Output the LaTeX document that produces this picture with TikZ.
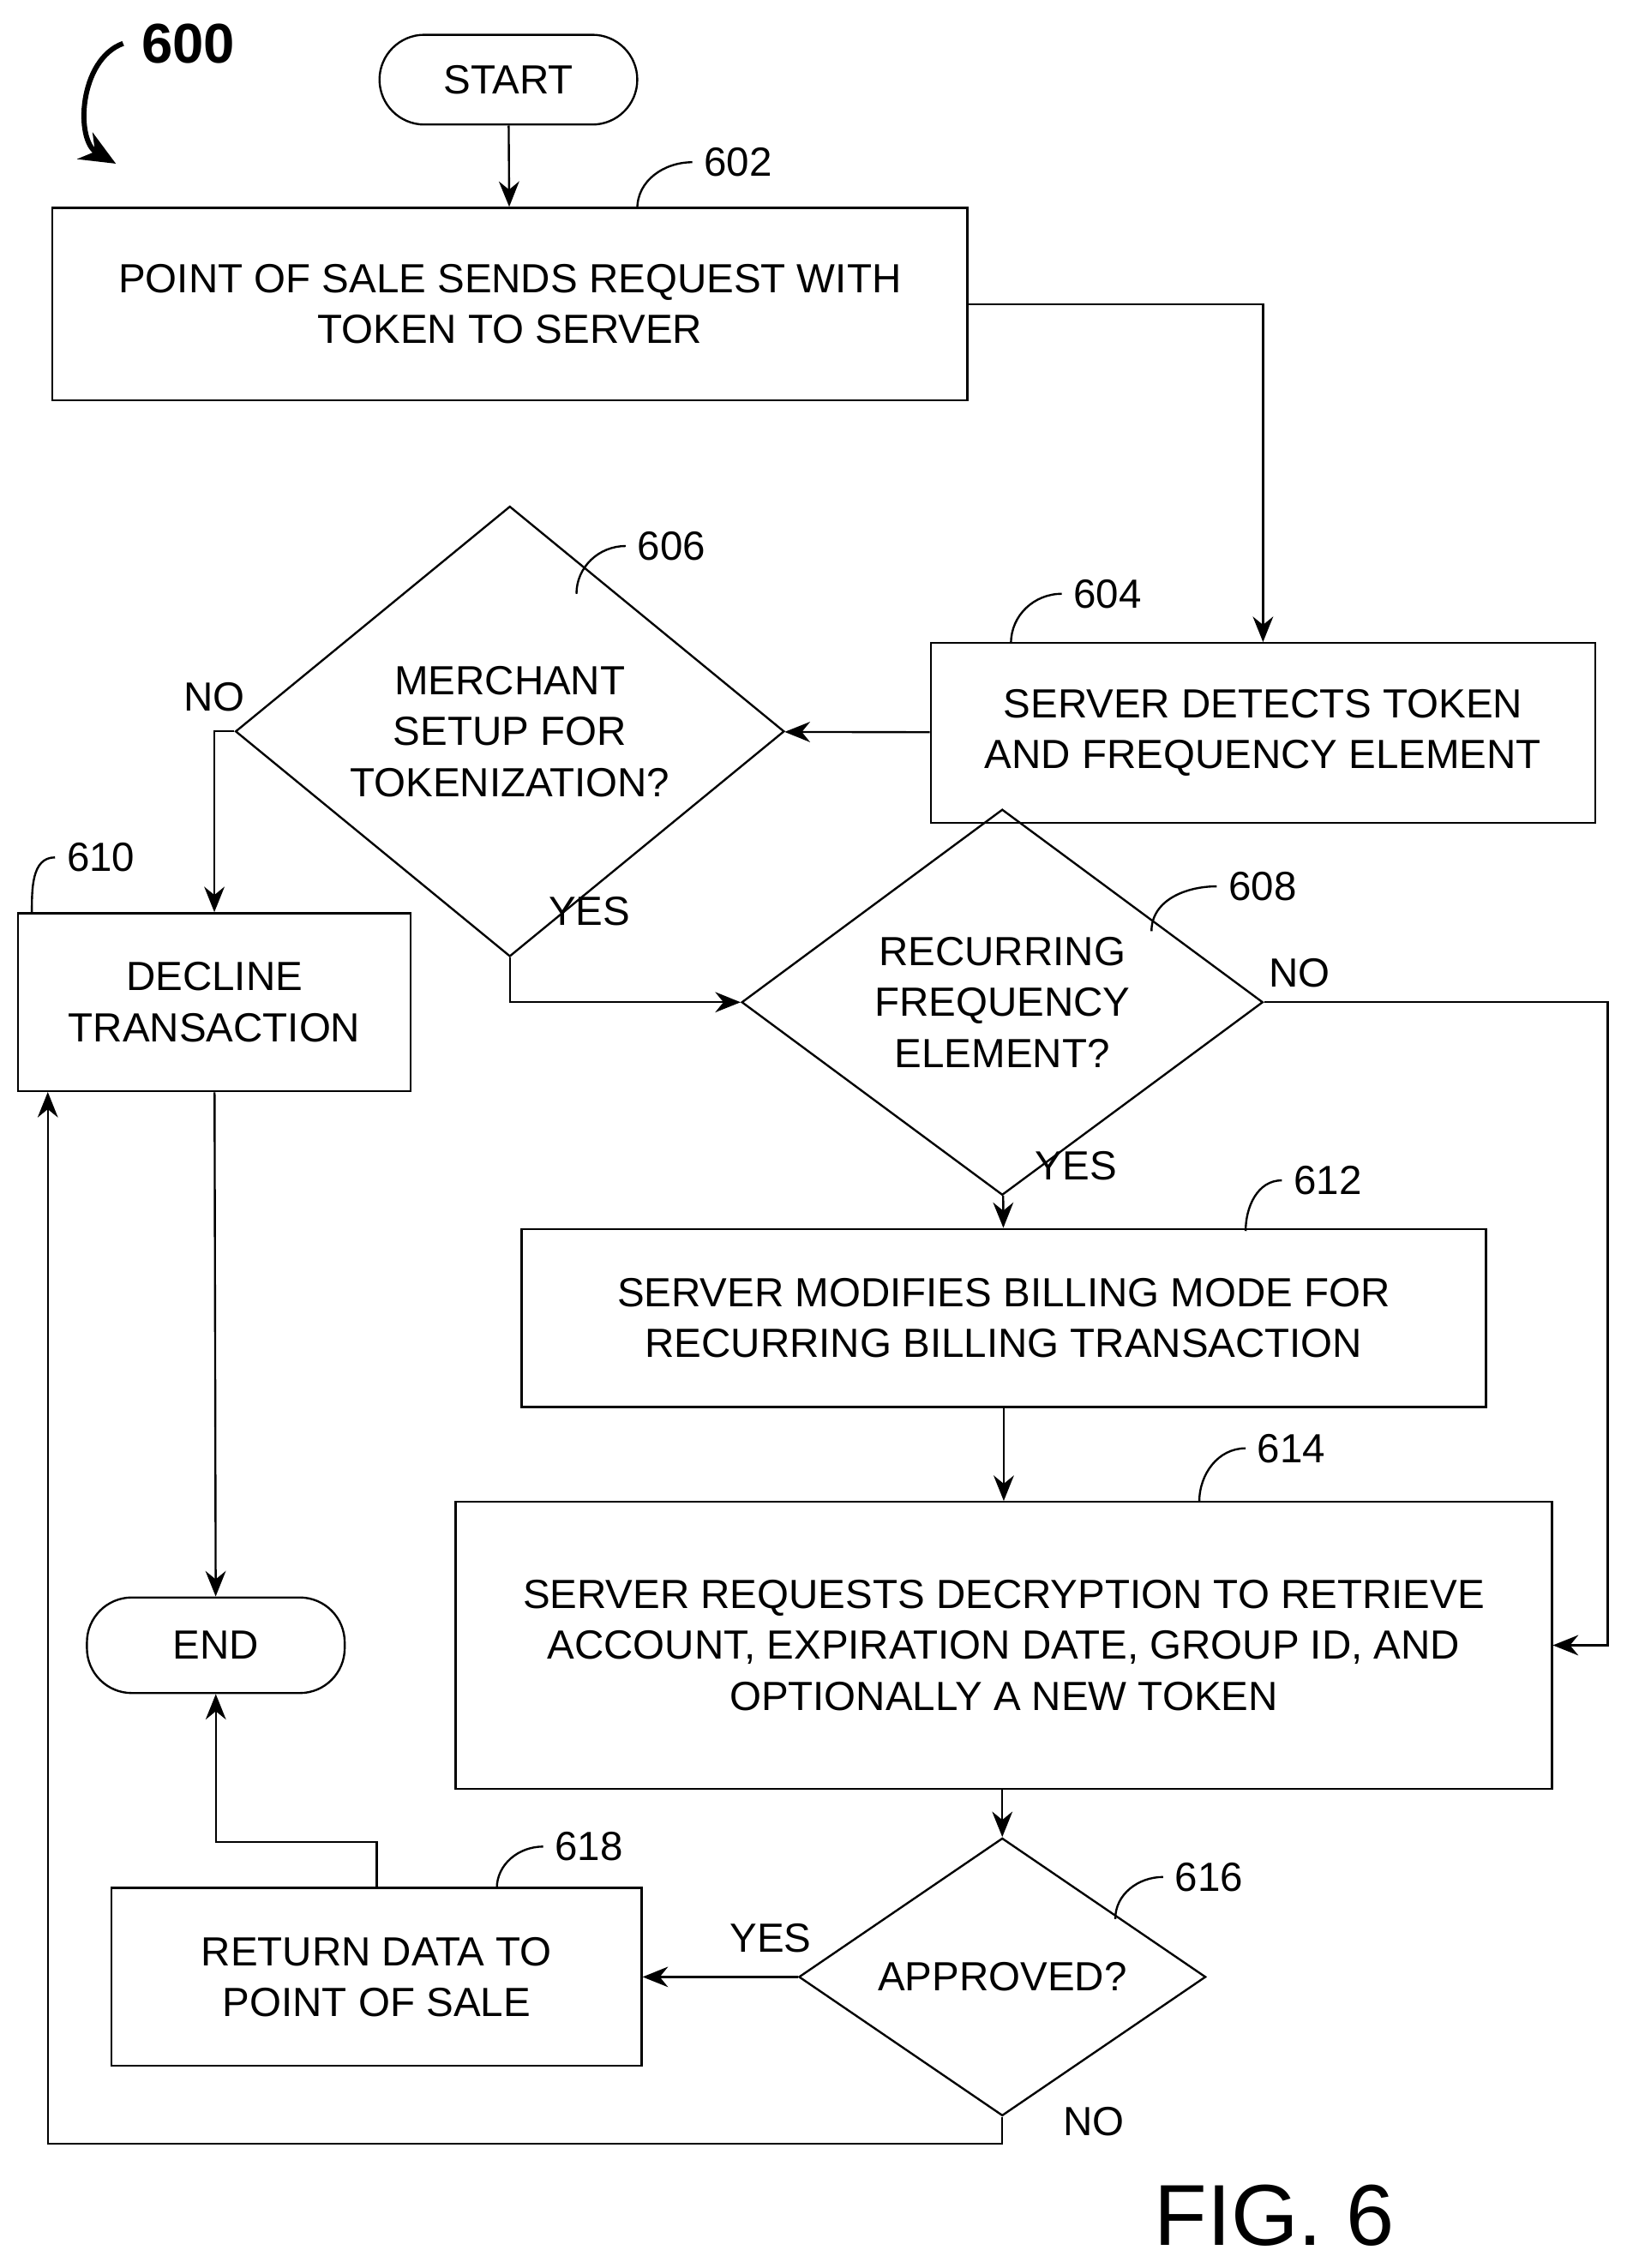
\documentclass[tikz,border=0pt]{standalone}
\usepackage{fontspec}
\setmainfont{Liberation Sans}
\usetikzlibrary{shapes.geometric,arrows.meta}
\tikzset{
  my box/.style={draw, thick, align=center, font=\fontsize{16}{20}\selectfont},
  my diamond/.style={draw, thick, diamond, inner sep=0pt, align=center, font=\fontsize{16}{20}\selectfont},
  my term/.style={draw, thick, rounded corners=0.62cm, align=center, font=\fontsize{16}{20}\selectfont},
  my flow/.style={thick, -{Stealth[length=10pt,width=8pt]}},
  my tag/.style={font=\fontsize{16}{20}\selectfont},
}

\begin{document}
\begin{tikzpicture}[x=0.02cm, y=-0.02cm]
\useasboundingbox (0,0) rectangle (1123,1566);
\node [my term, minimum width=3.56cm, minimum height=1.24cm] (start) at (351,55) {START};
\node [my box, minimum width=12.64cm, minimum height=2.66cm] (b602) at (352,210) {POINT OF SALE SENDS REQUEST WITH\\TOKEN TO SERVER};
\node [my box, minimum width=9.18cm, minimum height=2.48cm] (b604) at (872,506) {SERVER DETECTS TOKEN\\AND FREQUENCY ELEMENT};
\node [my diamond, minimum width=7.58cm, minimum height=4.96cm] (d606) at (352,505) {MERCHANT\\SETUP FOR\\TOKENIZATION?};
\node [my box, minimum width=5.42cm, minimum height=2.46cm] (b610) at (148,692) {DECLINE\\TRANSACTION};
\node [my diamond, minimum width=7.2cm, minimum height=4.16cm] (d608) at (692,692) {RECURRING\\FREQUENCY\\ELEMENT?};
\node [my box, minimum width=13.32cm, minimum height=2.46cm] (b612) at (693,910) {SERVER MODIFIES BILLING MODE FOR\\RECURRING BILLING TRANSACTION};
\node [my box, minimum width=15.14cm, minimum height=3.96cm] (b614) at (693,1136) {SERVER REQUESTS DECRYPTION TO RETRIEVE\\ACCOUNT, EXPIRATION DATE, GROUP ID, AND\\OPTIONALLY A NEW TOKEN};
\node [my term, minimum width=3.56cm, minimum height=1.32cm] (end) at (149,1136) {END};
\node [my diamond, minimum width=5.62cm, minimum height=3.22cm] (d616) at (692,1365) {APPROVED?};
\node [my box, minimum width=7.32cm, minimum height=2.46cm] (b618) at (260,1365) {RETURN DATA TO\\POINT OF SALE};

% connectors
\draw [my flow] (start) -- (b602);
\draw [my flow] (b602.east) -| (b604.north);
\draw [my flow] (b604) -- (d606);
\draw [my flow] (d606.west) -| (b610.north);
\draw [my flow] (d606.south) |- (d608.west);
\draw [my flow] (d608.east) -- (1110,692) |- (b614.east);
\draw [my flow] (d608) -- (b612);
\draw [my flow] (b612) -- (b614.north -| b612);
\draw [my flow] (b610) -- (end);
\draw [my flow] (b614.south -| d616) -- (d616);
\draw [my flow] (d616) -- (b618);
\draw [my flow] (b618.north) -- (260,1272) -| (end.south);
\draw [my flow] (d616.south) -- (692,1480) -| (33,754);

\node [my tag] (no606) at (148,481) {NO};
\node [my tag] (yes606) at (407,629) {YES};
\node [my tag] (no608) at (897,672) {NO};
\node [my tag] (yes608) at (743,805) {YES};
\node [my tag] (yes616) at (532,1338) {YES};
\node [my tag] (no616) at (755,1465) {NO};

% reference numerals
\foreach \xa/\ya/\xb/\yb/\num in {440/144/478/112/602, 398/410/432/377/606, 698/444/733/410/604,
  22/631/38/592/610, 795/643/840/612/608, 860/850/885/815/612, 828/1037/860/1000/614,
  343/1304/375/1275/618, 770/1325/803/1296/616}
{
  \draw [thick] (\xa,\ya) to[out=90,in=180] (\xb,\yb);
  \node [my tag, anchor=west] (n\num) at (\xb+2,\yb) {\num};
}

\node [font=\bfseries\fontsize{22}{26}\selectfont] (n600) at (130,30) {600};
\draw [line width=2pt, -{Stealth[length=14pt,width=12pt]}] (85,30) to[out=200,in=150] (80,113);
\node [font=\fontsize{34}{40}\selectfont] (fig) at (880,1530) {FIG. 6};
\end{tikzpicture}
\end{document}
